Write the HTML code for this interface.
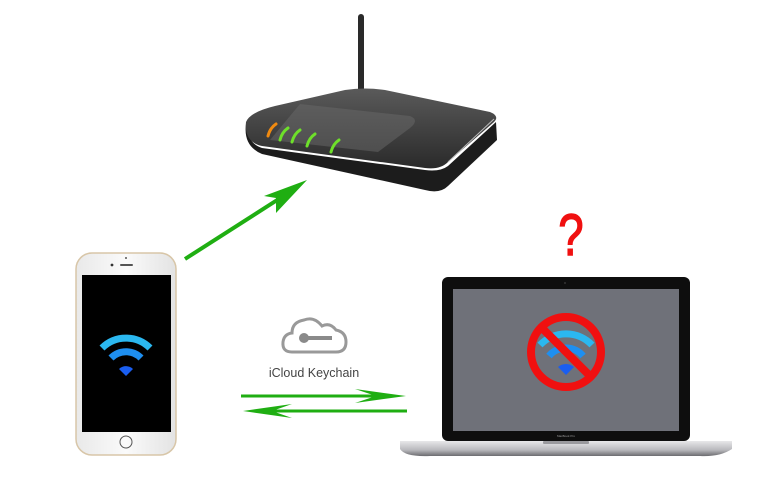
<!DOCTYPE html>
<html><head><style>
html,body{margin:0;padding:0;background:#fff;width:760px;height:500px;overflow:hidden}
</style></head><body>
<svg width="760" height="500" viewBox="0 0 760 500" xmlns="http://www.w3.org/2000/svg">
<defs>
<linearGradient id="rt" x1="0" y1="0" x2="0" y2="1"><stop offset="0" stop-color="#5a5a5a"/><stop offset="1" stop-color="#2a2a2a"/></linearGradient>
<linearGradient id="base" x1="0" y1="0" x2="0" y2="1"><stop offset="0" stop-color="#e8e8ea"/><stop offset="0.6" stop-color="#b8b8bc"/><stop offset="1" stop-color="#6a6a6e"/></linearGradient>
<linearGradient id="ph" x1="0" y1="0" x2="1" y2="0"><stop offset="0" stop-color="#e9e9e9"/><stop offset="0.5" stop-color="#fafafa"/><stop offset="1" stop-color="#e3e3e3"/></linearGradient>
</defs>
<!-- router -->
<rect x="358" y="14" width="6" height="80" rx="3" fill="#2a2a2a"/>
<path d="M246 124 Q243 146 262 154 L425 190 Q440 194 448 186 L497 140 L496 122 L448 166 Q440 172 425 170 L262 148 Q248 144 246 124Z" fill="#1c1c1c"/>
<path d="M246 122 Q250 112 275 106 L345 90 Q365 87 385 90 L490 112 Q500 116 494 122 L448 162 Q440 170 425 168 L262 146 Q244 142 246 122Z" fill="url(#rt)"/>
<path d="M300 104 L410 116 Q420 120 410 128 L378 152 L270 140 Z" fill="#6a6a6a" opacity="0.5"/>
<path d="M494 119 L448 162" stroke="#bbb" stroke-width="1"/>
<g stroke-width="3" fill="none" stroke-linecap="round">
<path d="M268 136 Q270 128 276 124" stroke="#f08a10"/>
<path d="M280 140 Q282 132 288 128" stroke="#6ee02a"/>
<path d="M292 142 Q294 134 300 130" stroke="#6ee02a"/>
<path d="M307 146 Q309 138 315 134" stroke="#6ee02a"/>
<path d="M331 152 Q333 144 339 140" stroke="#6ee02a"/>
</g>
<!-- arrow to router -->
<line x1="185" y1="259" x2="285" y2="195" stroke="#1fae12" stroke-width="4"/>
<polygon points="307,180 264,196 276,198 276,213" fill="#1fae12"/>
<!-- phone -->
<rect x="76" y="253" width="100" height="202" rx="16" fill="url(#ph)" stroke="#d8c6a8" stroke-width="1.5"/>
<rect x="82" y="275" width="89" height="157" fill="#000"/>
<circle cx="126" cy="442" r="6" fill="none" stroke="#555" stroke-width="1"/>
<circle cx="112" cy="265" r="1.4" fill="#333"/>
<rect x="120" y="264" width="13" height="2" rx="1" fill="#555"/>
<circle cx="126" cy="258" r="1" fill="#555"/>
<g fill="none" stroke-linecap="butt">
<path d="M102 348 A34 34 0 0 1 150 348" stroke="#2bb8f0" stroke-width="7"/>
<path d="M111 358 A21 21 0 0 1 141 358" stroke="#1e8ff0" stroke-width="7"/>
</g>
<path d="M119 369 A10 10 0 0 1 133 369 L126 376Z" fill="#1a5ef0"/>
<!-- cloud -->
<path d="M292 352 Q282 352 283 342 Q284 334 292 333 Q292 322 304 320 Q314 316 322 326 Q330 322 336 330 Q346 332 346 342 Q346 352 336 352Z" fill="#fff" stroke="#999" stroke-width="3"/>
<circle cx="304" cy="338" r="5" fill="#8a8a8a"/>
<rect x="306" y="336" width="26" height="4" fill="#8a8a8a"/>
<text x="314" y="377" font-family="Liberation Sans, sans-serif" font-size="12.5" fill="#444" text-anchor="middle">iCloud Keychain</text>
<!-- sync arrows -->
<line x1="241" y1="396" x2="395" y2="396" stroke="#1fae12" stroke-width="3"/>
<polygon points="406,396 355,389 376,396 355,403" fill="#1fae12"/>
<line x1="255" y1="411" x2="407" y2="411" stroke="#1fae12" stroke-width="3"/>
<polygon points="243,411 292,404 272,411 292,418" fill="#1fae12"/>
<!-- question mark -->
<text x="571" y="255" font-family="Liberation Sans, sans-serif" font-size="58" fill="#f01010" stroke="#f01010" stroke-width="1.5" text-anchor="middle" transform="translate(571 0) scale(0.78 1) translate(-571 0)">?</text>
<!-- laptop -->
<rect x="442" y="277" width="248" height="164" rx="6" fill="#0e0e0e"/>
<rect x="453" y="289" width="226" height="142" fill="#6f7179"/>
<circle cx="565" cy="283" r="1" fill="#333"/>
<text x="566" y="437" font-family="Liberation Sans, sans-serif" font-size="3" fill="#999" text-anchor="middle">MacBook Pro</text>
<path d="M400 441 L732 441 L732 449 Q720 457 700 456 L430 456 Q405 457 400 449Z" fill="url(#base)"/>
<rect x="543" y="441" width="46" height="3" rx="1" fill="#9a9a9e"/>
<g fill="none">
<path d="M540 345 A36 36 0 0 1 592 345" stroke="#2bb8f0" stroke-width="7"/>
<path d="M549 356 A22 22 0 0 1 583 356" stroke="#1e8ff0" stroke-width="7"/>
</g>
<path d="M558 367 A12 12 0 0 1 574 367 L566 375Z" fill="#1a5ef0"/>
<circle cx="566" cy="352" r="35" fill="none" stroke="#f01010" stroke-width="8"/>
<line x1="542" y1="328" x2="590" y2="376" stroke="#f01010" stroke-width="8"/>
</svg>
</body></html>
